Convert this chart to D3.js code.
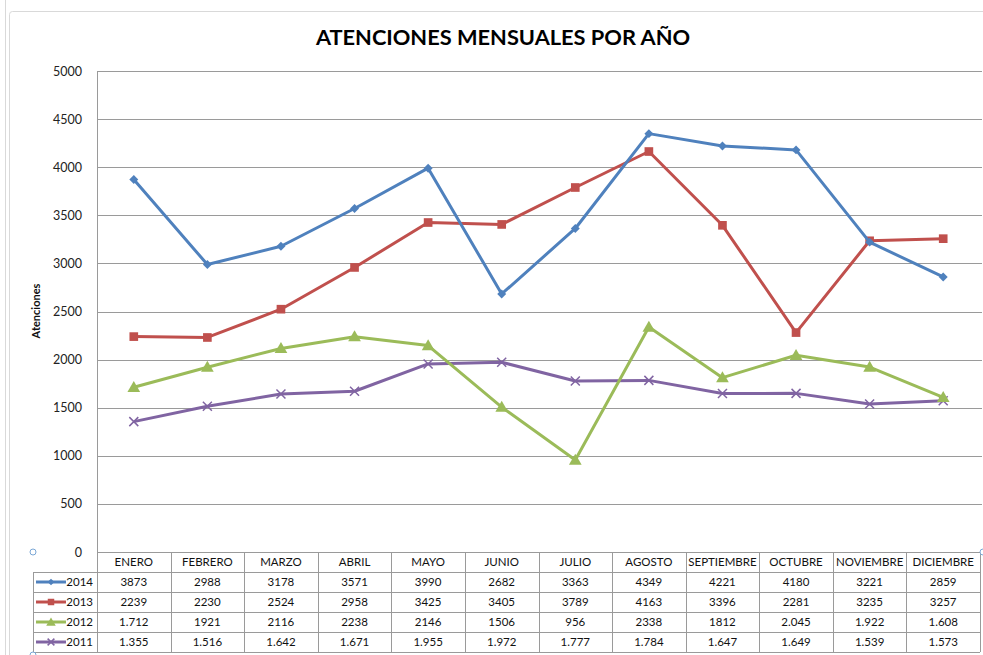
<!DOCTYPE html>
<html>
<head>
<meta charset="utf-8">
<script src="https://cdn.jsdelivr.net/npm/d3@7"></script>
<style>
    body { margin: 0; background: #fff; }
    svg { display: block; font-family: Lato, "Open Sans", sans-serif; }
</style>
</head>
<body>
<div id="chart"></div>
<script>
// months and values as they appear in the data table (dots = thousands separator)
let months = ["ENERO", "FEBRERO", "MARZO", "ABRIL", "MAYO", "JUNIO", "JULIO",
              "AGOSTO", "SEPTIEMBRE", "OCTUBRE", "NOVIEMBRE", "DICIEMBRE"];
let seriesNames = ["2014", "2013", "2012", "2011"];
let text2014 = ["3873", "2988", "3178", "3571", "3990", "2682", "3363", "4349", "4221", "4180", "3221", "2859"];
let text2013 = ["2239", "2230", "2524", "2958", "3425", "3405", "3789", "4163", "3396", "2281", "3235", "3257"];
let text2012 = ["1.712", "1921", "2116", "2238", "2146", "1506", "956", "2338", "1812", "2.045", "1.922", "1.608"];
let text2011 = ["1.355", "1.516", "1.642", "1.671", "1.955", "1.972", "1.777", "1.784", "1.647", "1.649", "1.539", "1.573"];
let yTicks = [0, 500, 1000, 1500, 2000, 2500, 3000, 3500, 4000, 4500, 5000];
let colors = ["#4F81BD", "#C0504D", "#9BBB59", "#8064A2"];
let markers = ["diamond", "square", "triangle", "cross"];

let tableText = [text2014, text2013, text2012, text2011];
let series = seriesNames.map((name, i) => {
    return {
        name: name,
        color: colors[i],
        marker: markers[i],
        text: tableText[i],
        values: tableText[i].map(t => +t.replace(".", ""))
    };
});

let width = 983, height = 655;
let plot = {left: 97, right: 980, top: 71, bottom: 552};
let rowH = 20;

let svg = d3.select("#chart").append("svg")
    .attr("width", width)
    .attr("height", height);

// chart frame
svg.append("line")
    .attr("x1", 5.5).attr("x2", 5.5).attr("y1", 0).attr("y2", height)
    .attr("stroke", "#d9d9d9");
svg.append("rect")
    .attr("x", 9.5).attr("y", 11.5)
    .attr("width", 1000).attr("height", 700)
    .attr("rx", 3)
    .attr("fill", "none")
    .attr("stroke", "#d9d9d9");

let xScale = d3.scaleBand().domain(months).range([plot.left, plot.right]);
let yScale = d3.scaleLinear().domain([0, 5000]).range([plot.bottom, plot.top]);

// title
svg.append("text")
    .attr("x", 503).attr("y", 45)
    .attr("text-anchor", "middle")
    .style("font-size", "21.8px")
    .style("font-weight", "bold")
    .attr("fill", "#000")
    .text("ATENCIONES MENSUALES POR AÑO");

// gridlines
svg.append("g").selectAll("line")
    .data(yTicks)
    .enter().append("line")
    .attr("x1", plot.left).attr("x2", 982)
    .attr("y1", d => Math.round(yScale(d)) + 0.5)
    .attr("y2", d => Math.round(yScale(d)) + 0.5)
    .attr("stroke", "#9a9a9a");

// y axis
let yAxis = d3.axisLeft(yScale).tickValues(yTicks).tickFormat(d3.format("d")).tickSize(0).tickPadding(15);
let yAx = svg.append("g")
    .attr("transform", "translate(" + plot.left + ",0)")
    .call(yAxis);
yAx.select(".domain").remove();
yAx.selectAll("text")
    .style("font-size", "12.5px")
    .style("font-family", "Lato, sans-serif")
    .attr("fill", "#222");

svg.append("line")
    .attr("x1", plot.left + 0.5).attr("x2", plot.left + 0.5)
    .attr("y1", plot.top).attr("y2", plot.bottom)
    .attr("stroke", "#9a9a9a");

svg.append("text")
    .attr("transform", "translate(40," + 311 + ") rotate(-90)")
    .attr("text-anchor", "middle")
    .style("font-size", "11px")
    .style("font-weight", "bold")
    .attr("fill", "#111")
    .text("Atenciones");

// data table
let table = svg.append("g").attr("class", "table");
let tableTop = plot.bottom;
let legendLeft = 33;

// vertical borders
let colEdges = months.map(m => xScale(m)).concat([plot.right]);
table.selectAll(".vline")
    .data(colEdges)
    .enter().append("line")
    .attr("x1", d => Math.round(d) + 0.5).attr("x2", d => Math.round(d) + 0.5)
    .attr("y1", tableTop).attr("y2", tableTop + rowH * 5)
    .attr("stroke", "#9a9a9a");
table.append("line")
    .attr("x1", legendLeft + 0.5).attr("x2", legendLeft + 0.5)
    .attr("y1", tableTop + rowH).attr("y2", tableTop + rowH * 5)
    .attr("stroke", "#9a9a9a");

// horizontal borders
table.selectAll(".hline")
    .data(d3.range(1, 6))
    .enter().append("line")
    .attr("x1", legendLeft)
    .attr("x2", plot.right)
    .attr("y1", i => tableTop + rowH * i + 0.5)
    .attr("y2", i => tableTop + rowH * i + 0.5)
    .attr("stroke", "#9a9a9a");

// month header
table.selectAll(".month")
    .data(months)
    .enter().append("text")
    .attr("x", d => xScale(d) + xScale.bandwidth() / 2)
    .attr("y", tableTop + rowH / 2 + 4)
    .attr("text-anchor", "middle")
    .style("font-size", "11.5px")
    .attr("fill", "#111")
    .text(d => d);

// value rows
series.forEach((s, i) => {
    let rowY = tableTop + rowH * (i + 1);
    table.selectAll(".cell" + i)
        .data(s.text)
        .enter().append("text")
        .attr("x", (d, j) => xScale(months[j]) + xScale.bandwidth() / 2)
        .attr("y", rowY + rowH / 2 + 4)
        .attr("text-anchor", "middle")
        .style("font-size", "11.5px")
        .attr("fill", "#111")
        .text(d => d);

    // legend key
    let cy = rowY + rowH / 2;
    table.append("line")
        .attr("x1", legendLeft + 3).attr("x2", legendLeft + 33)
        .attr("y1", cy).attr("y2", cy)
        .attr("stroke", s.color)
        .attr("stroke-width", 3);
    drawMarker(table, s.marker, legendLeft + 18, cy, s.color, 0.75);
    table.append("text")
        .attr("x", plot.left - 4)
        .attr("y", cy + 4)
        .attr("text-anchor", "end")
        .style("font-size", "11.5px")
        .attr("fill", "#111")
        .text(s.name);
});

// lines
let line = d3.line()
    .x((d, j) => xScale(months[j]) + xScale.bandwidth() / 2)
    .y(d => yScale(d));

let lines = svg.append("g");
series.slice().reverse().forEach(s => {
    lines.append("path")
        .datum(s.values)
        .attr("d", line)
        .attr("fill", "none")
        .attr("stroke", s.color)
        .attr("stroke-width", 3)
        .attr("stroke-linejoin", "round");
    s.values.forEach((v, j) => {
        drawMarker(lines, s.marker, xScale(months[j]) + xScale.bandwidth() / 2, yScale(v), s.color, 1);
    });
});

function drawMarker(g, type, x, y, color, k) {
    if (type === "diamond") {
        g.append("path")
            .attr("d", d3.symbol().type(d3.symbolSquare).size(40 * k * k)())
            .attr("transform", "translate(" + x + "," + y + ") rotate(45)")
            .attr("fill", color);
    } else if (type === "square") {
        g.append("path")
            .attr("d", d3.symbol().type(d3.symbolSquare).size(75 * k * k)())
            .attr("transform", "translate(" + x + "," + y + ")")
            .attr("fill", color);
    } else if (type === "triangle") {
        g.append("path")
            .attr("d", d3.symbol().type(d3.symbolTriangle).size(70 * k * k)())
            .attr("transform", "translate(" + x + "," + (y + 1) + ")")
            .attr("fill", color);
    } else {
        let r = 4.5 * k;
        g.append("path")
            .attr("d", "M" + (x - r) + "," + (y - r) + "L" + (x + r) + "," + (y + r) +
                       "M" + (x - r) + "," + (y + r) + "L" + (x + r) + "," + (y - r))
            .attr("stroke", color)
            .attr("stroke-width", 1.5)
            .attr("fill", "none");
    }
}

// selection handles
let handles = [[33, 552], [983, 552], [33, 655]];
svg.selectAll(".handle")
    .data(handles)
    .enter().append("circle")
    .attr("cx", d => d[0]).attr("cy", d => d[1])
    .attr("r", 3)
    .attr("fill", "#fff")
    .attr("stroke", "#7aa7d6");
</script>
</body>
</html>
